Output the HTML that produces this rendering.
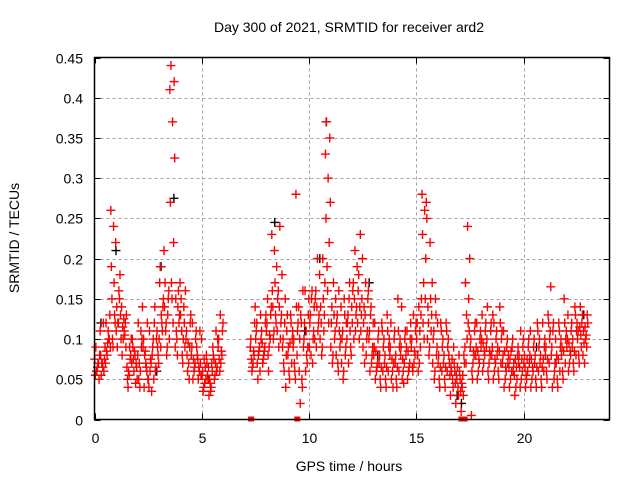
<!DOCTYPE html>
<html><head><meta charset="utf-8"><style>
body{margin:0;background:#fff}
svg{display:block;font-family:"Liberation Sans",sans-serif}
</style></head><body>
<svg id="chart" width="640" height="480" xmlns="http://www.w3.org/2000/svg">
<rect width="640" height="480" fill="#fff"/>
<text x="349" y="32" font-size="14" text-anchor="middle">Day 300 of 2021, SRMTID for receiver ard2</text>
<g id="grid"></g>
<g id="ticks"></g>
<g id="marks"></g>
<rect x="94.5" y="57.5" width="515" height="362" fill="none" stroke="#000" stroke-width="1.5"/>
<text transform="translate(19,238) rotate(-90)" font-size="14" text-anchor="middle">SRMTID / TECUs</text>
<text x="349" y="471" font-size="14" text-anchor="middle">GPS time / hours</text>
</svg>
<script>
const xTicks=[0,5,10,15,20];
const yTicks=[0,0.05,0.1,0.15,0.2,0.25,0.3,0.35,0.4,0.45];
const yTickLabels=["0","0.05","0.1","0.15","0.2","0.25","0.3","0.35","0.4","0.45"];
const binStarts=[0,0.25,0.5,0.75,1,1.25,1.5,1.75,2,2.25,2.5,2.75,3,3.25,3.5,3.75,4,4.25,4.5,4.75,5,5.25,5.5,5.75,7.25,7.5,7.75,8,8.25,8.5,8.75,9,9.25,9.5,9.75,10,10.25,10.5,10.75,11,11.25,11.5,11.75,12,12.25,12.5,12.75,13,13.25,13.5,13.75,14,14.25,14.5,14.75,15,15.25,15.5,15.75,16,16.25,16.5,16.75,17,17.25,17.5,17.75,18,18.25,18.5,18.75,19,19.25,19.5,19.75,20,20.25,20.5,20.75,21,21.25,21.5,21.75,22,22.25,22.5,22.75];
const binValues=[
[.06,.07,.055,.08,.065,.075,.05,.09,.07,.06],
[.07,.06,.08,.09,.065,.11,.075,.055,.12,.07],
[.08,.1,.12,.09,.11,.07,.13,.085,.1,.095],
[.1,.13,.19,.22,.24,.26,.12,.15,.17,.09],
[.12,.18,.14,.1,.16,.11,.13,.09,.15,.12],
[.1,.12,.08,.13,.11,.14,.09,.115,.105,.125],
[.06,.08,.05,.07,.09,.065,.1,.04,.075,.055],
[.06,.07,.09,.05,.08,.1,.065,.075,.045,.085],
[.07,.09,.12,.14,.06,.08,.1,.05,.11,.04],
[.08,.06,.1,.05,.07,.09,.12,.04,.065,.085],
[.06,.08,.04,.1,.07,.05,.09,.11,.035,.075],
[.06,.09,.12,.07,.1,.05,.08,.14,.11,.065],
[.09,.14,.17,.21,.12,.1,.15,.19,.11,.13],
[.12,.15,.17,.1,.09,.14,.16,.11,.13,.08],
[.17,.22,.27,.325,.37,.41,.42,.44,.12,.15],
[.1,.12,.15,.17,.14,.09,.13,.11,.16,.08],
[.08,.12,.15,.16,.1,.13,.09,.11,.14,.07],
[.06,.09,.11,.13,.07,.1,.12,.08,.05,.095],
[.05,.07,.09,.11,.06,.08,.1,.12,.065,.075],
[.05,.07,.08,.1,.06,.09,.055,.075,.11,.065],
[.04,.05,.06,.07,.045,.055,.08,.035,.065,.075],
[.03,.04,.05,.06,.045,.055,.07,.065,.035,.05],
[.05,.06,.08,.1,.07,.09,.065,.075,.11,.055],
[.06,.08,.1,.12,.07,.09,.11,.075,.085,.13],
[.06,.08,.1,.14,.07,.09,.12,.075,.085,.065],
[.07,.09,.11,.13,.08,.1,.06,.12,.085,.05],
[.07,.09,.11,.13,.08,.1,.12,.095,.085,.075],
[.08,.1,.12,.14,.09,.11,.13,.15,.105,.06],
[.1,.13,.16,.19,.21,.23,.12,.14,.17,.11],
[.09,.12,.15,.18,.24,.11,.13,.16,.1,.14],
[.06,.08,.1,.13,.15,.09,.11,.07,.04,.12],
[.05,.07,.09,.11,.13,.08,.1,.06,.12,.095],
[.06,.08,.1,.12,.28,.09,.11,.07,.14,.05],
[.02,.04,.06,.09,.12,.14,.16,.1,.05,.13],
[.06,.09,.12,.15,.08,.1,.13,.16,.07,.11],
[.08,.1,.12,.14,.16,.09,.11,.13,.07,.15],
[.09,.12,.15,.18,.2,.1,.13,.16,.11,.14],
[.08,.11,.14,.17,.2,.1,.13,.12,.15,.09],
[.19,.22,.25,.27,.3,.33,.35,.37,.12,.16],
[.07,.1,.12,.15,.17,.09,.11,.14,.13,.08],
[.07,.09,.12,.14,.16,.08,.1,.13,.11,.06],
[.05,.08,.1,.12,.15,.07,.09,.11,.13,.06],
[.07,.09,.12,.14,.17,.1,.08,.13,.11,.15],
[.1,.13,.16,.19,.21,.12,.14,.17,.11,.15],
[.1,.13,.16,.2,.23,.12,.15,.18,.11,.14],
[.07,.1,.12,.15,.17,.09,.11,.14,.08,.13],
[.06,.08,.1,.12,.14,.16,.09,.11,.07,.13],
[.05,.07,.09,.11,.06,.08,.1,.12,.065,.085],
[.04,.06,.08,.1,.12,.07,.09,.05,.11,.065],
[.04,.06,.08,.1,.13,.07,.09,.05,.11,.065],
[.05,.07,.09,.11,.06,.08,.1,.12,.04,.075],
[.04,.06,.08,.1,.15,.07,.09,.05,.11,.065],
[.05,.07,.09,.11,.06,.08,.1,.14,.045,.075],
[.05,.07,.09,.12,.06,.08,.1,.11,.065,.085],
[.06,.08,.1,.12,.07,.09,.11,.065,.085,.13],
[.06,.09,.12,.15,.07,.1,.13,.08,.11,.14],
[.17,.2,.23,.25,.26,.28,.27,.12,.15,.1],
[.08,.11,.14,.17,.22,.1,.13,.12,.15,.09],
[.05,.08,.1,.12,.15,.07,.09,.11,.13,.06],
[.04,.06,.08,.1,.12,.07,.09,.05,.11,.065],
[.04,.06,.08,.1,.12,.07,.09,.05,.11,.065],
[.03,.05,.07,.09,.06,.08,.04,.055,.075,.065],
[.02,.04,.06,.08,.05,.07,.03,.045,.065,.055],
[.01,.03,.05,.07,.04,.06,.08,.035,.055,.045],
[.13,.15,.17,.2,.24,.09,.11,.07,.12,.1],
[.06,.08,.1,.12,.07,.09,.11,.005,.085,.05],
[.05,.07,.09,.11,.06,.08,.1,.12,.075,.085],
[.06,.08,.1,.12,.07,.09,.11,.13,.085,.095],
[.06,.08,.1,.12,.07,.09,.11,.14,.085,.05],
[.05,.07,.09,.11,.06,.08,.1,.13,.075,.12],
[.05,.07,.09,.11,.14,.08,.1,.06,.12,.085],
[.04,.06,.08,.1,.05,.07,.09,.11,.065,.085],
[.04,.06,.08,.1,.05,.07,.09,.065,.085,.075],
[.03,.05,.07,.09,.04,.06,.08,.055,.065,.075],
[.04,.06,.08,.1,.05,.07,.09,.065,.075,.11],
[.04,.06,.08,.1,.05,.07,.09,.065,.075,.055],
[.04,.06,.08,.1,.05,.07,.09,.11,.065,.075],
[.04,.06,.08,.1,.12,.07,.09,.05,.11,.065],
[.04,.06,.08,.1,.12,.07,.09,.05,.075,.065],
[.05,.07,.09,.11,.13,.08,.1,.06,.12,.075],
[.04,.06,.08,.1,.12,.165,.07,.09,.05,.11],
[.04,.06,.08,.1,.12,.07,.09,.05,.11,.075],
[.05,.07,.09,.11,.15,.08,.1,.06,.12,.085],
[.06,.08,.1,.12,.07,.09,.11,.13,.085,.095],
[.06,.08,.1,.12,.14,.09,.11,.07,.13,.085],
[.07,.09,.11,.13,.14,.1,.12,.08,.105,.115],
[.07,.09,.11,.12,.1,.08,.13,.095,.105,.115]
];
const blackTimes=[0.3,1.0,3.1,3.7,8.4,10.5,10.8,12.8,17.1,22.8,9.8,13.2,2.9,5.3,16.9,20.6];
const blackValues=[0.12,0.21,0.19,0.275,0.245,0.2,0.37,0.17,0.02,0.13,0.11,0.08,0.06,0.05,0.03,0.09];
const zeroTimes=[7.3,9.45,17.1,17.25];

const NS="http://www.w3.org/2000/svg";
const X0=94.5,X1=609.5,Y0=419.5,Y1=57.5;
const sx=t=>X0+(t/24)*(X1-X0);
const sy=v=>Y0-(v/0.45)*(Y0-Y1);
const grid=document.getElementById('grid'),ticks=document.getElementById('ticks'),marks=document.getElementById('marks');
function mk(tag,attrs,parent){const e=document.createElementNS(NS,tag);for(const k in attrs)e.setAttribute(k,attrs[k]);parent.appendChild(e);return e;}
yTicks.forEach((v,i)=>{
  const y=Math.round(sy(v))+0.5;
  if(i>0&&i<yTicks.length-1){
    const g=mk('line',{x1:X0,x2:X1,y1:y,y2:y,stroke:'#a0a0a0','stroke-dasharray':'3,3'},grid);
    
    
  }
  const t=mk('text',{x:83,y:y+5,'font-size':14,'text-anchor':'end'},ticks);
  t.textContent=yTickLabels[i];
  
  
  mk('line',{x1:X0,x2:X0+6,y1:y,y2:y,stroke:'#000'},ticks);
  mk('line',{x1:X1,x2:X1-6,y1:y,y2:y,stroke:'#000'},ticks);
});
xTicks.forEach(t=>{
  const x=Math.round(sx(t))+0.5;
  if(t>0){
    const g=mk('line',{x1:x,x2:x,y1:Y0,y2:Y1,stroke:'#a0a0a0','stroke-dasharray':'3,3'},grid);
    
    
  }
  const l=mk('text',{x:x,y:443,'font-size':14,'text-anchor':'middle'},ticks);
  l.textContent=String(t);
  
  
  mk('line',{x1:x,x2:x,y1:Y0,y2:Y0-6,stroke:'#000'},ticks);
  mk('line',{x1:x,x2:x,y1:Y1,y2:Y1+6,stroke:'#000'},ticks);
});
function plus(t,v,color){
  const x=sx(t),y=sy(v);
  const p=mk('path',{d:`M${x-4.5},${y}H${x+4.5}M${x},${y-4.5}V${y+4.5}`,stroke:color,'stroke-width':1.4,fill:'none'},marks);
  
  
}
blackTimes.forEach((t,i)=>plus(t,blackValues[i],'#000'));
const jit=[3,7,1,9,5,0,8,2,6,4];
binStarts.forEach((b,i)=>{
  binValues[i].forEach((v,k)=>plus(b+0.25*(jit[k]+0.5)/10,v,'#ff0000'));
});
zeroTimes.forEach(t=>{
  const r=mk('rect',{x:sx(t)-3,y:Y0-3,width:6,height:5,fill:'#ff0000'},marks);
  
  
});
</script>
</body></html>
